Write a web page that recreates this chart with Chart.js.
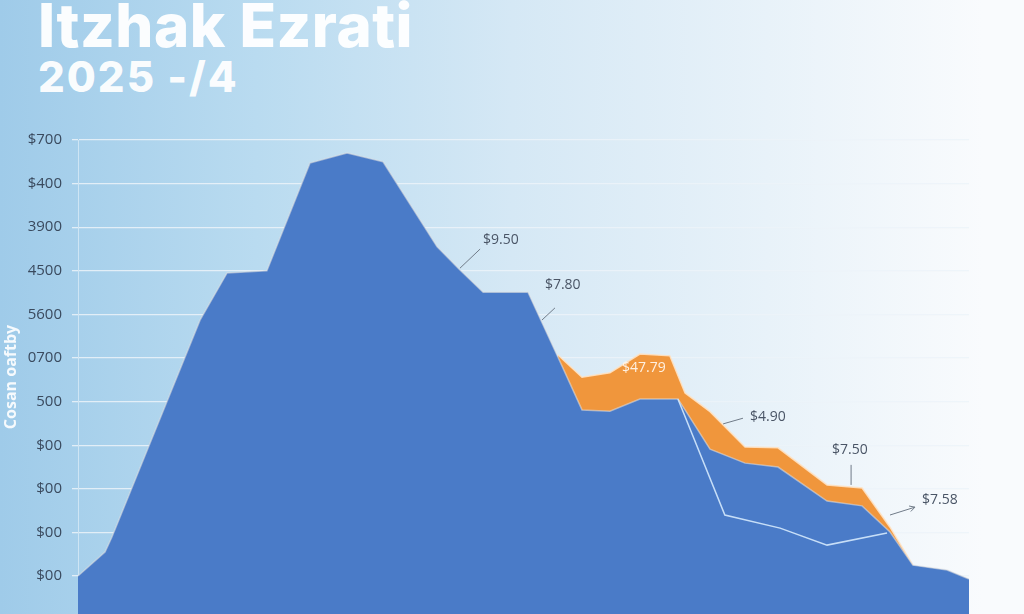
<!DOCTYPE html>
<html>
<head>
<meta charset="utf-8">
<title>Itzhak Ezrati 2025</title>
<script src="https://cdn.jsdelivr.net/npm/chart.js@4.4.1/dist/chart.umd.min.js"></script>
<style>
    html, body { margin: 0; padding: 0; }
    body {
        width: 1024px;
        height: 614px;
        overflow: hidden;
        position: relative;
        font-family: Inter, "Open Sans", sans-serif;
        background: linear-gradient(90deg, #9fcbe9 0%, #b9dbf0 25%, #d5e8f5 50%, #e8f2f9 75%, #f9fbfd 96%);
    }
    .title { position: absolute; left: 38px; color: rgba(255,255,255,0.95); font-weight: 800; white-space: nowrap; line-height: 1; }
    #t1 { top: -5px; font-size: 60px; letter-spacing: 0.5px; }
    #t2 { top: 56px; font-size: 42px; letter-spacing: 2px; }
    #wrap { position: absolute; left: 0; top: 0; width: 1024px; height: 614px; }
</style>
</head>
<body>
<div class="title" id="t1">Itzhak Ezrati</div>
<div class="title" id="t2">2025 -/4</div>
<div id="wrap"><canvas id="areaChart"></canvas></div>
<script>
// tick labels, bottom to top
const yTickLabels = ['$00', '$00', '$00', '$00', '500', '0700', '5600', '4500', '3900', '$400', '$700'];

// main blue area
const baseX = [0, 0.91, 1.14, 4.11, 5.02, 6.36, 7.81, 9.06, 10.27, 12.09, 12.86, 13.64, 15.15, 16.16, 16.97, 17.91, 18.92, 19.93, 20.20, 20.44, 21.28, 22.46, 23.57, 25.22, 26.40, 27.34, 28.11, 29.26, 30];
const baseY = [0.0, 0.55, 0.89, 5.87, 6.95, 7.0, 9.47, 9.70, 9.50, 7.55, 7.02, 6.51, 6.51, 5.02, 3.81, 3.78, 4.06, 4.06, 4.06, 3.81, 2.91, 2.59, 2.50, 1.72, 1.61, 1.01, 0.25, 0.14, -0.07];

// orange band (top edge)
const bandX = [16.16, 16.97, 17.91, 18.92, 19.93, 20.44, 21.28, 22.46, 23.57, 25.22, 26.40, 27.34, 28.11];
const bandY = [5.07, 4.56, 4.66, 5.09, 5.05, 4.20, 3.77, 2.96, 2.94, 2.09, 2.02, 1.12, 0.25];

// thin light line inside the blue area
const trendX = [20.20, 21.78, 23.64, 25.22, 27.24];
const trendY = [4.06, 1.40, 1.10, 0.71, 0.99];

// callouts (data units)
const notes = [
    { text: '$9.50', x: 13.64, y: 7.71, line: [12.86, 7.06, 13.54, 7.50] },
    { text: '$7.80', x: 15.72, y: 6.67, line: [15.62, 5.87, 16.06, 6.15] },
    { text: '$47.79', x: 18.32, y: 4.77, light: true },
    { text: '$4.90', x: 22.63, y: 3.65, line: [21.72, 3.49, 22.39, 3.62] },
    { text: '$7.50', x: 25.39, y: 2.89, line: [26.03, 2.55, 26.03, 2.09] },
    { text: '$7.58', x: 28.42, y: 1.74, line: [28.18, 1.58, 27.34, 1.40], arrow: true }
];

function toPoints(xs, ys) {
    return xs.map((v, i) => ({ x: v, y: ys[i] }));
}

const notesPlugin = {
    id: 'notes',
    afterDatasetsDraw(chart) {
        const { ctx, scales: { x, y } } = chart;
        ctx.save();
        notes.forEach(n => {
            if (n.line) {
                const x1 = x.getPixelForValue(n.line[0]), y1 = y.getPixelForValue(n.line[1]);
                const x2 = x.getPixelForValue(n.line[2]), y2 = y.getPixelForValue(n.line[3]);
                ctx.strokeStyle = '#707b88';
                ctx.lineWidth = 1;
                ctx.beginPath();
                ctx.moveTo(x1, y1);
                ctx.lineTo(x2, y2);
                ctx.stroke();
                if (n.arrow) {
                    const a = Math.atan2(y2 - y1, x2 - x1);
                    ctx.beginPath();
                    ctx.moveTo(x1 + 6 * Math.cos(a - 0.5), y1 + 6 * Math.sin(a - 0.5));
                    ctx.lineTo(x1, y1);
                    ctx.lineTo(x1 + 6 * Math.cos(a + 0.5), y1 + 6 * Math.sin(a + 0.5));
                    ctx.stroke();
                }
            }
            ctx.fillStyle = n.light ? 'rgba(255,245,235,0.95)' : '#4a5566';
            ctx.font = '14px "Open Sans"';
            ctx.textBaseline = 'middle';
            ctx.textAlign = 'left';
            ctx.fillText(n.text, x.getPixelForValue(n.x), y.getPixelForValue(n.y));
        });
        ctx.restore();
    }
};

document.addEventListener('DOMContentLoaded', function() {
    const ctx = document.getElementById('areaChart').getContext('2d');
    new Chart(ctx, {
        type: 'line',
        data: {
            datasets: [
                {
                    label: 'Trend',
                    data: toPoints(trendX, trendY),
                    borderColor: 'rgba(205,228,250,0.95)',
                    borderWidth: 1.5,
                    fill: false,
                    pointRadius: 0,
                    tension: 0,
                    order: 0
                },
                {
                    label: 'Base',
                    data: toPoints(baseX, baseY),
                    backgroundColor: '#4a7bc8',
                    borderColor: 'rgba(228,226,224,0.55)',
                    borderWidth: 1.5,
                    fill: 'start',
                    pointRadius: 0,
                    tension: 0,
                    order: 1
                },
                {
                    label: 'Extra',
                    data: toPoints(bandX, bandY),
                    backgroundColor: '#f0963c',
                    borderColor: 'rgba(255,226,195,0.9)',
                    borderWidth: 1.5,
                    fill: 'start',
                    pointRadius: 0,
                    tension: 0,
                    order: 2
                }
            ]
        },
        options: {
            responsive: true,
            maintainAspectRatio: false,
            animation: false,
            layout: { padding: { top: 140, right: 55, left: 0, bottom: 0 } },
            plugins: {
                legend: { display: false },
                tooltip: { enabled: false }
            },
            scales: {
                x: { type: 'linear', min: 0, max: 30, display: false },
                y: {
                    min: -0.87,
                    max: 10,
                    afterBuildTicks: scale => {
                        scale.ticks = yTickLabels.map((_, i) => ({ value: i }));
                    },
                    afterFit: scale => {
                        scale.width = 78;
                        scale.paddingTop = 0;
                        scale.paddingBottom = 0;
                    },
                    ticks: {
                        padding: 10,
                        color: '#3a4a5e',
                        font: { family: 'Open Sans', size: 15 },
                        callback: (value, index) => yTickLabels[index]
                    },
                    grid: {
                        color: 'rgba(236,243,249,0.85)',
                        lineWidth: 1.3,
                        tickLength: 6
                    },
                    border: { display: true, color: 'rgba(255,255,255,0.45)' },
                    title: {
                        display: true,
                        text: 'Cosan oaftby',
                        color: 'rgba(255,255,255,0.9)',
                        font: { family: 'Open Sans', size: 16, weight: 'bold' },
                        padding: { top: 2, bottom: 4 }
                    }
                }
            }
        },
        plugins: [notesPlugin]
    });
});
</script>
</body>
</html>
